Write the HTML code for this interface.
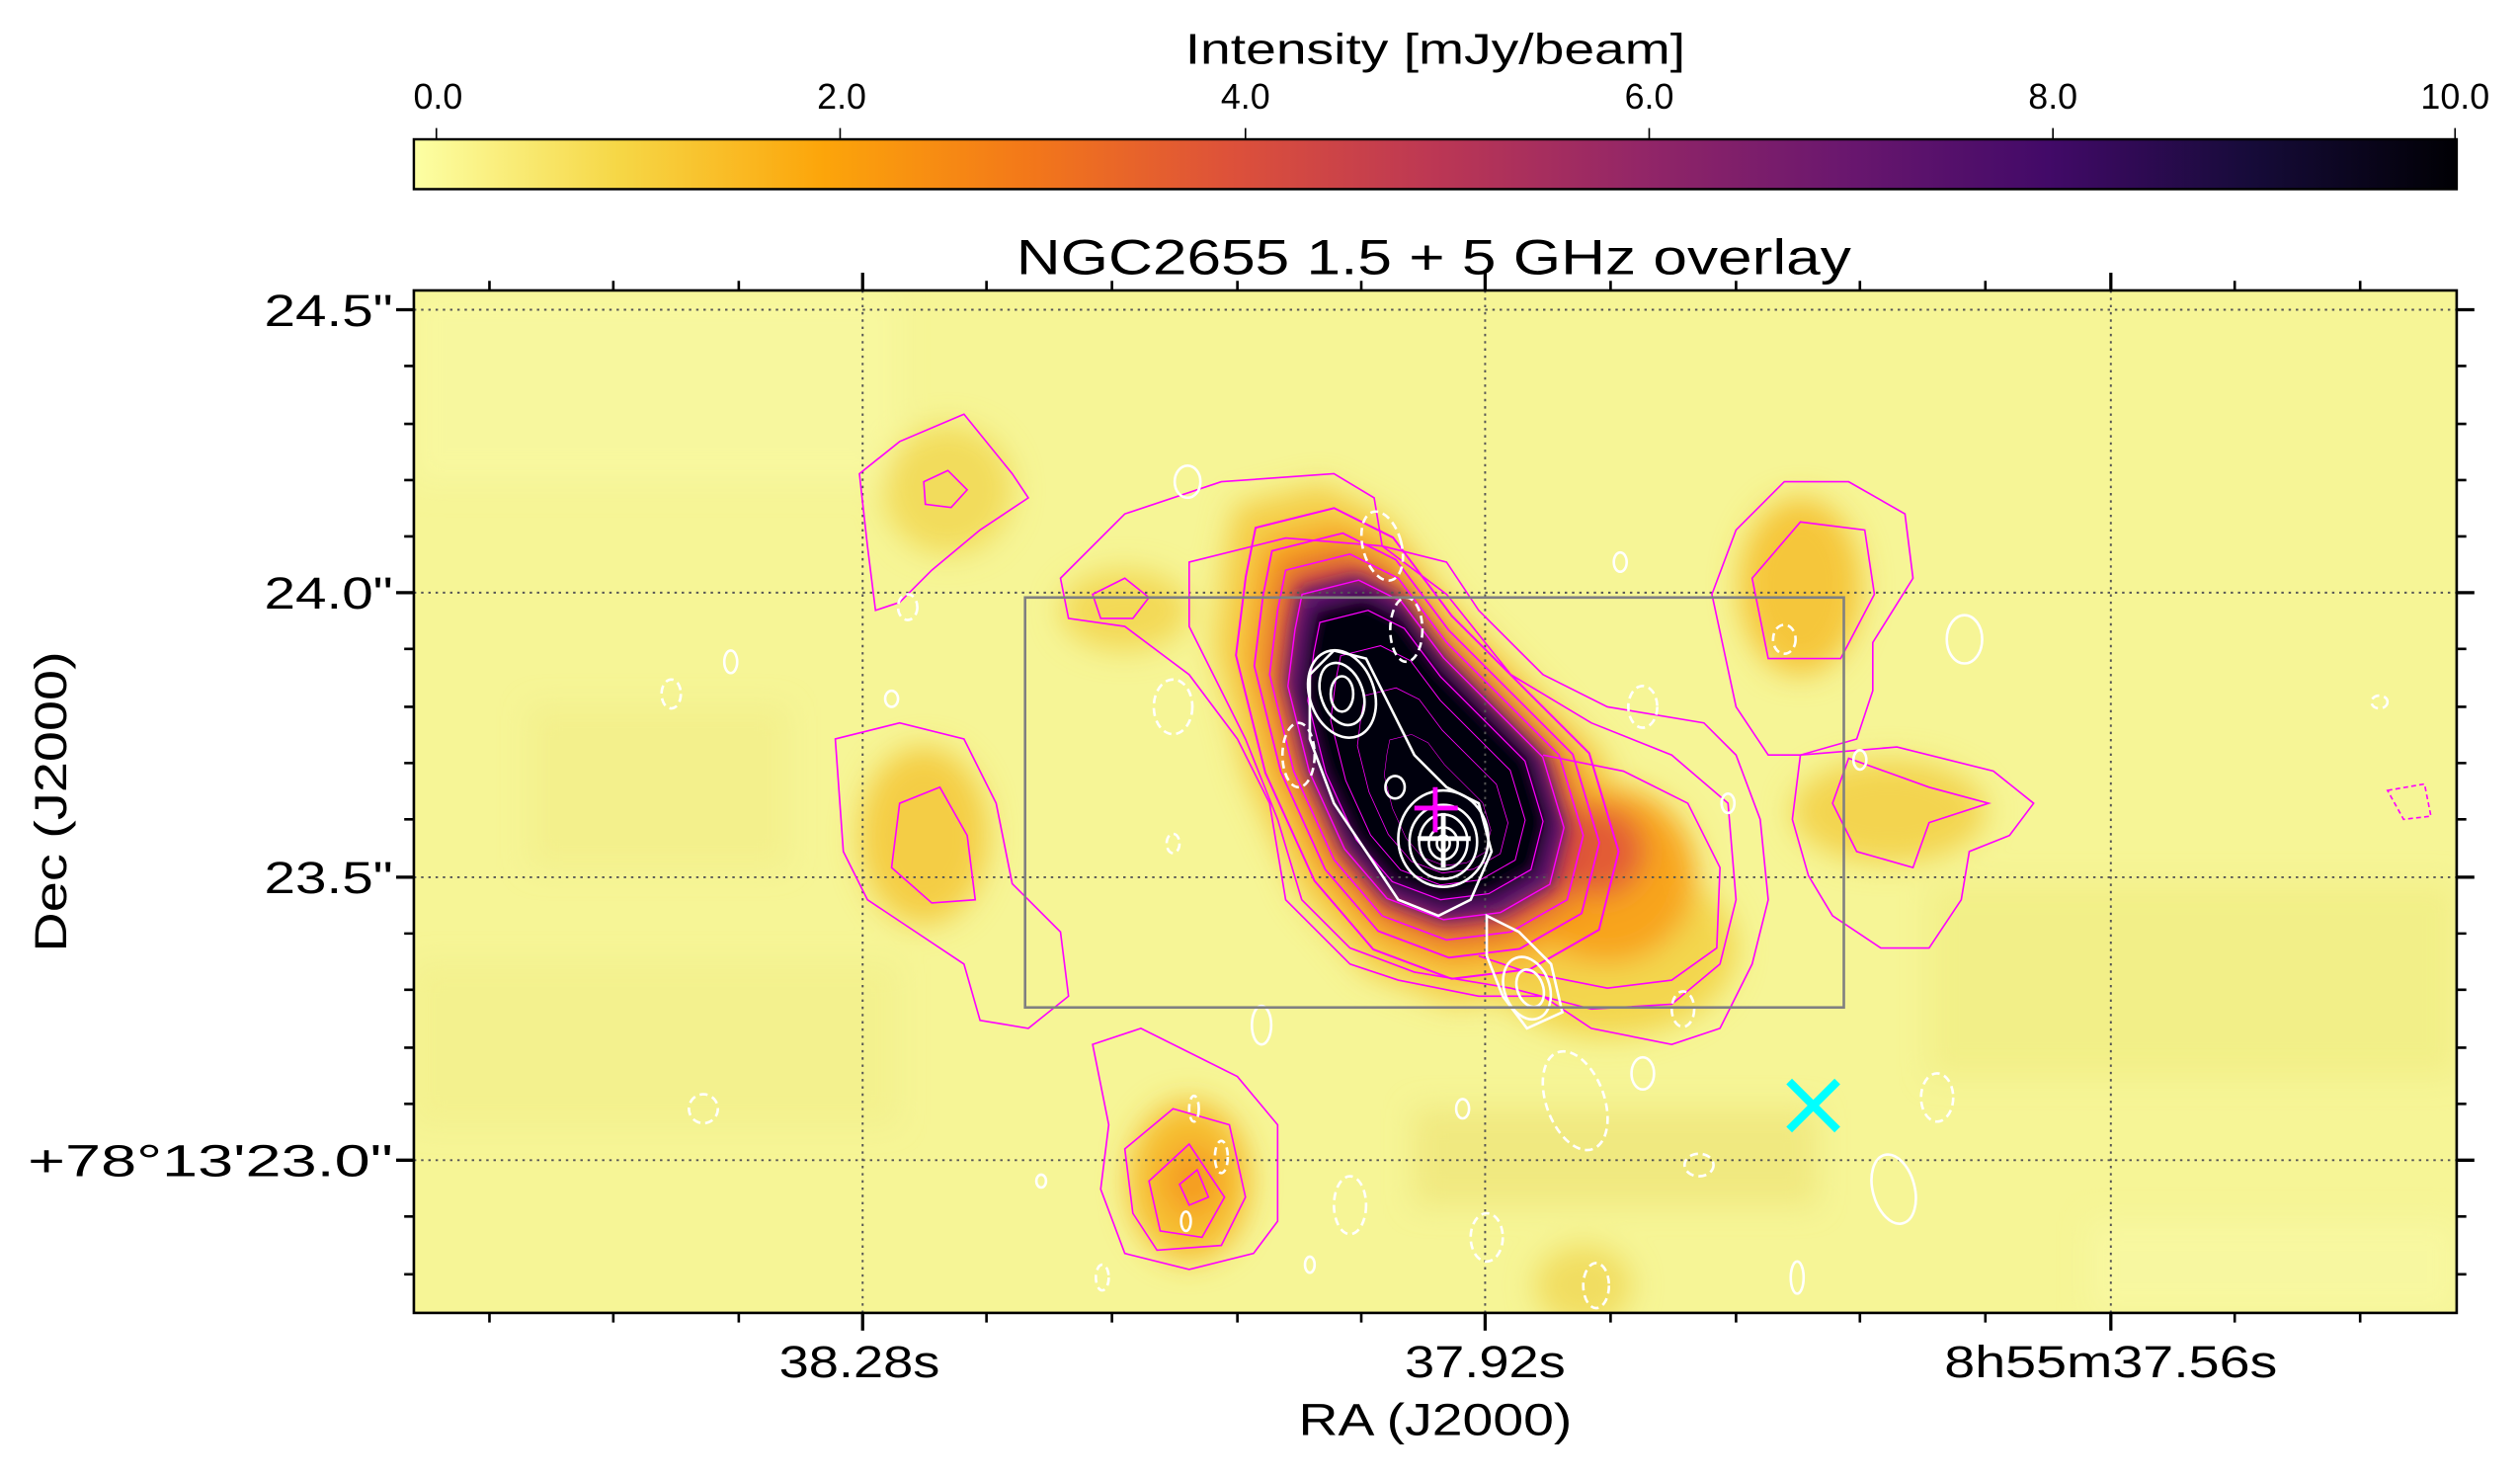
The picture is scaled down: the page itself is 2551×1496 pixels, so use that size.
<!DOCTYPE html>
<html><head><meta charset="utf-8"><style>
html,body{margin:0;padding:0;background:#fff;}
svg{display:block;}
text{font-family:"Liberation Sans",Arial,sans-serif;fill:#000;}
</style></head><body>
<svg width="2551" height="1496" viewBox="0 0 1560 915" preserveAspectRatio="none" xmlns="http://www.w3.org/2000/svg">
<defs>
<linearGradient id="cb" x1="258" y1="0" x2="1528" y2="0" gradientUnits="userSpaceOnUse">
<stop offset="0" stop-color="#fcffa4"/>
<stop offset="0.1" stop-color="#f6d746"/>
<stop offset="0.2" stop-color="#fca50a"/>
<stop offset="0.3" stop-color="#f37819"/>
<stop offset="0.4" stop-color="#dd513a"/>
<stop offset="0.5" stop-color="#bc3754"/>
<stop offset="0.6" stop-color="#932667"/>
<stop offset="0.7" stop-color="#6a176e"/>
<stop offset="0.8" stop-color="#420a68"/>
<stop offset="0.9" stop-color="#160b39"/>
<stop offset="1" stop-color="#000004"/>
</linearGradient>
<clipPath id="ax"><rect x="258" y="181" width="1270" height="636"/></clipPath>
<filter id="bl" x="-50%" y="-50%" width="200%" height="200%"><feGaussianBlur stdDeviation="9"/></filter>
<filter id="bl2" x="-50%" y="-50%" width="200%" height="200%"><feGaussianBlur stdDeviation="5"/></filter>
<path id="core" d="M800,355 L840,345 L870,360 L900,400 L940,440 L970,470 L985,520 L975,560 L940,580 L900,585 L860,570 L830,535 L805,480 L790,420 L795,380 Z"/>
</defs>
<g transform="translate(-0.707,-0.346) scale(0.99575,0.99528)">
<!-- colorbar -->
<text x="893" y="40" font-size="27" text-anchor="middle" textLength="311" lengthAdjust="spacingAndGlyphs">Intensity [mJy/beam]</text>
<rect x="258" y="87" width="1270" height="31" fill="url(#cb)" stroke="#000" stroke-width="1.5"/>
<g stroke="#000" stroke-width="1">
<line x1="272" y1="87" x2="272" y2="80"/><line x1="523" y1="87" x2="523" y2="80"/><line x1="775" y1="87" x2="775" y2="80"/><line x1="1026" y1="87" x2="1026" y2="80"/><line x1="1277" y1="87" x2="1277" y2="80"/><line x1="1527" y1="87" x2="1527" y2="80"/>
</g>
<g font-size="22" text-anchor="middle">
<text x="273" y="68">0.0</text><text x="524" y="68">2.0</text><text x="775" y="68">4.0</text><text x="1026" y="68">6.0</text><text x="1277" y="68">8.0</text><text x="1527" y="68">10.0</text>
</g>

<text x="892" y="171" font-size="31" text-anchor="middle" textLength="519" lengthAdjust="spacingAndGlyphs">NGC2655 1.5 + 5 GHz overlay</text>

<!-- image -->
<g clip-path="url(#ax)">
<rect x="258" y="181" width="1270" height="636" fill="#f6f596"/>
<g filter="url(#bl)">
<rect x="258" y="181" width="300" height="120" fill="#f8f8a0" opacity="0.8"/>
<rect x="1200" y="550" width="328" height="120" fill="#f1ec82" opacity="0.7"/>
<rect x="258" y="600" width="300" height="100" fill="#f1ee88" opacity="0.6"/>
<rect x="880" y="690" width="250" height="60" fill="#efe67a" opacity="0.8"/>
<rect x="1300" y="760" width="228" height="57" fill="#f8f8a2" opacity="0.8"/>
<rect x="330" y="440" width="160" height="100" fill="#f1ec85" opacity="0.6"/>
<ellipse cx="590" cy="305" rx="40" ry="40" fill="#f2dc5c"/>
<ellipse cx="575" cy="520" rx="40" ry="55" fill="#f4cd45"/>
<ellipse cx="740" cy="735" rx="38" ry="50" fill="#f6be32"/>
<ellipse cx="742" cy="735" rx="18" ry="22" fill="#f59c20"/>
<ellipse cx="1120" cy="365" rx="38" ry="55" fill="#f5c63a"/>
<ellipse cx="1175" cy="505" rx="60" ry="32" fill="#f3d450"/>
<ellipse cx="1000" cy="590" rx="80" ry="55" fill="#f3d64e"/>
<ellipse cx="985" cy="800" rx="30" ry="25" fill="#f1dd60"/>
<ellipse cx="700" cy="380" rx="40" ry="25" fill="#f3d957"/>
<use href="#core" fill="#f4cf48" transform="translate(890,470) scale(1.35) translate(-890,-470)"/>
<ellipse cx="1000" cy="545" rx="55" ry="55" fill="#f8a41a"/>
<use href="#core" fill="#f89c14" transform="translate(890,470) scale(1.15) translate(-890,-470)"/>
<ellipse cx="995" cy="530" rx="28" ry="28" fill="#e35b34"/>
<use href="#core" fill="#d3463f" transform="translate(890,470) scale(1.0) translate(-890,-470)"/>
</g>
<g filter="url(#bl2)">
<use href="#core" fill="#5e1570" transform="translate(885,475) scale(0.9) translate(-885,-475)"/>
<use href="#core" fill="#05030f" transform="translate(885,475) scale(0.8) translate(-885,-475)"/>
</g>

<!-- grid -->
<g stroke="#555" stroke-width="1.2" stroke-dasharray="1.5,3">
<line x1="537" y1="181" x2="537" y2="817"/><line x1="924" y1="181" x2="924" y2="817"/><line x1="1313" y1="181" x2="1313" y2="817"/>
<line x1="258" y1="193" x2="1528" y2="193"/><line x1="258" y1="369" x2="1528" y2="369"/><line x1="258" y1="546" x2="1528" y2="546"/><line x1="258" y1="722" x2="1528" y2="722"/>
</g>

<!-- magenta contours -->
<g fill="none" stroke="#ff00ff" stroke-width="1">
<path d="M535,295 L560,275 L600,258 L630,295 L640,310 L610,330 L580,355 L560,375 L545,380 L540,340 Z"/>
<path d="M575,300 L590,293 L602,305 L592,316 L576,314 Z"/>
<path d="M660,360 L700,320 L760,300 L830,295 L855,310 L860,340 L900,350 L920,380 L960,420 L1000,440 L1060,450 L1080,470 L1095,510 L1100,560 L1090,600 L1070,640 L1040,650 L990,640 L960,620 L920,620 L870,610 L840,600 L800,560 L790,500 L770,460 L740,420 L700,390 L665,385 Z"/>
<path d="M680,370 L700,360 L715,372 L705,385 L685,385 Z"/>
<path d="M520,460 L560,450 L600,460 L620,500 L630,550 L660,580 L665,620 L640,640 L610,635 L600,600 L570,580 L540,560 L525,530 Z"/>
<path d="M560,500 L585,490 L602,520 L607,560 L580,562 L555,540 Z"/>
<path d="M1065,370 L1080,330 L1110,300 L1150,300 L1185,320 L1190,360 L1165,400 L1165,430 L1155,460 L1120,470 L1100,470 L1080,440 Z"/>
<path d="M1090,360 L1120,325 L1160,330 L1166,370 L1145,410 L1100,410 Z"/>
<path d="M1120,470 L1180,465 L1240,480 L1265,500 L1250,520 L1225,530 L1220,560 L1200,590 L1170,590 L1140,570 L1125,545 L1115,510 Z"/>
<path d="M1150,472 L1200,490 L1237,500 L1200,512 L1190,540 L1155,530 L1140,500 Z"/>
<path d="M680,650 L710,640 L740,655 L770,670 L795,700 L795,760 L780,780 L740,790 L700,780 L685,740 L690,700 Z"/>
<path d="M700,715 L730,690 L765,700 L775,745 L760,775 L720,778 L705,755 Z"/>
<path d="M715,735 L740,712 L762,745 L748,770 L722,766 Z"/>
<path d="M734,737 L745,728 L752,745 L740,750 Z"/>
<path d="M740,350 L800,335 L860,340 L900,370 L940,420 L990,450 L1040,470 L1075,500 L1080,560 L1070,600 L1040,625 L990,628 L940,615 L880,605 L840,590 L810,560 L795,510 L775,460 L755,420 L740,390 Z"/>
<path d="M960,470 L1010,480 L1050,500 L1070,540 L1068,590 L1040,610 L1000,615 L950,605 L920,595"/>
<use href="#core" transform="translate(885,475) scale(1.22) translate(-885,-475)"/>
<use href="#core" transform="translate(885,475) scale(1.1) translate(-885,-475)"/>
<use href="#core" transform="translate(885,475) scale(1.0) translate(-885,-475)"/>
<use href="#core" transform="translate(885,480) scale(0.88) translate(-885,-480)"/>
<use href="#core" transform="translate(885,485) scale(0.75) translate(-885,-485)"/>
<use href="#core" transform="translate(890,495) scale(0.62) translate(-890,-495)"/>
<use href="#core" transform="translate(895,505) scale(0.48) translate(-895,-505)"/>
<use href="#core" transform="translate(898,515) scale(0.34) translate(-898,-515)"/>
<path d="M1485,492 L1508,488 L1512,508 L1495,510 Z" stroke-dasharray="3,2"/>
</g>

<!-- white contours -->
<g fill="none" stroke="#fff" stroke-width="1.6">
<ellipse cx="835" cy="432" rx="20" ry="28" transform="rotate(-20 835 432)"/>
<ellipse cx="835" cy="432" rx="13" ry="20" transform="rotate(-20 835 432)"/>
<ellipse cx="835" cy="432" rx="7" ry="11"/>
<path d="M815,420 L830,405 L850,410 L865,440 L880,470 L900,490 L920,500 L928,530 L915,560 L895,570 L870,560 L850,530 L830,500 L815,460 Z"/>
<ellipse cx="898" cy="522" rx="28" ry="30"/>
<ellipse cx="898" cy="524" rx="21" ry="23"/>
<ellipse cx="898" cy="524" rx="15" ry="17"/>
<ellipse cx="898" cy="525" rx="9" ry="10"/>
<ellipse cx="898" cy="525" rx="4" ry="5"/>
<ellipse cx="868" cy="490" rx="6" ry="7"/>
<ellipse cx="950" cy="615" rx="14" ry="20" transform="rotate(-20 950 615)"/>
<ellipse cx="952" cy="615" rx="8" ry="12" transform="rotate(-20 952 615)"/>
<path d="M925,570 L945,580 L965,600 L972,630 L950,640 L935,620 L925,595 Z"/>
<ellipse cx="1222" cy="398" rx="11" ry="15"/>
<ellipse cx="1022" cy="668" rx="7" ry="10"/>
<ellipse cx="1178" cy="740" rx="13" ry="22" transform="rotate(-15 1178 740)"/>
<ellipse cx="739" cy="300" rx="8" ry="10"/>
<ellipse cx="785" cy="638" rx="6" ry="12"/>
<ellipse cx="910" cy="690" rx="4" ry="6"/>
<ellipse cx="455" cy="412" rx="4" ry="7"/>
<ellipse cx="555" cy="435" rx="4" ry="5"/>
<ellipse cx="1008" cy="350" rx="4" ry="6"/>
<ellipse cx="1118" cy="795" rx="4" ry="10"/>
<ellipse cx="1075" cy="500" rx="4" ry="6"/>
<ellipse cx="1157" cy="473" rx="4" ry="6"/>
<ellipse cx="738" cy="760" rx="3" ry="6"/>
<ellipse cx="648" cy="735" rx="3" ry="4"/>
<ellipse cx="815" cy="787" rx="3" ry="5"/>
</g>
<g fill="none" stroke="#fff" stroke-width="1.6" stroke-dasharray="5,3">
<ellipse cx="730" cy="440" rx="12" ry="17"/>
<ellipse cx="860" cy="340" rx="12" ry="22" transform="rotate(-15 860 340)"/>
<ellipse cx="875" cy="392" rx="10" ry="20"/>
<ellipse cx="808" cy="470" rx="10" ry="20"/>
<ellipse cx="1022" cy="440" rx="9" ry="13"/>
<ellipse cx="980" cy="685" rx="18" ry="32" transform="rotate(-20 980 685)"/>
<ellipse cx="1047" cy="628" rx="7" ry="11"/>
<ellipse cx="1110" cy="398" rx="7" ry="9"/>
<ellipse cx="1205" cy="683" rx="10" ry="15"/>
<ellipse cx="418" cy="432" rx="6" ry="9"/>
<ellipse cx="438" cy="690" rx="9" ry="9"/>
<ellipse cx="840" cy="750" rx="10" ry="18"/>
<ellipse cx="925" cy="770" rx="10" ry="15"/>
<ellipse cx="993" cy="800" rx="8" ry="14"/>
<ellipse cx="1057" cy="725" rx="9" ry="7"/>
<ellipse cx="565" cy="378" rx="6" ry="8"/>
<ellipse cx="760" cy="720" rx="4" ry="10"/>
<ellipse cx="743" cy="690" rx="3" ry="8"/>
<ellipse cx="1480" cy="437" rx="5" ry="4"/>
<ellipse cx="730" cy="525" rx="4" ry="6"/>
<ellipse cx="686" cy="795" rx="4" ry="8"/>
</g>

<!-- box and markers -->
<rect x="638" y="372" width="509" height="255" fill="none" stroke="#808080" stroke-width="1.6"/>
<g stroke="#ff00ff" stroke-width="3"><line x1="880" y1="503" x2="907" y2="503"/><line x1="893" y1="490" x2="893" y2="518"/></g>
<g stroke="#fff" stroke-width="3"><line x1="882" y1="522" x2="915" y2="522"/><line x1="898" y1="506" x2="898" y2="540"/></g>
<g stroke="#00ffff" stroke-width="5"><line x1="1113" y1="673" x2="1143" y2="703"/><line x1="1143" y1="673" x2="1113" y2="703"/></g>
</g>

<!-- axes frame -->
<rect x="258" y="181" width="1270" height="636" fill="none" stroke="#000" stroke-width="1.6"/>
<g stroke="#000" stroke-width="2">
<line x1="537" y1="817" x2="537" y2="828"/><line x1="924" y1="817" x2="924" y2="828"/><line x1="1313" y1="817" x2="1313" y2="828"/>
<line x1="537" y1="181" x2="537" y2="170"/><line x1="924" y1="181" x2="924" y2="170"/><line x1="1313" y1="181" x2="1313" y2="170"/>
<line x1="258" y1="193" x2="247" y2="193"/><line x1="258" y1="369" x2="247" y2="369"/><line x1="258" y1="546" x2="247" y2="546"/><line x1="258" y1="722" x2="247" y2="722"/>
<line x1="1528" y1="193" x2="1539" y2="193"/><line x1="1528" y1="369" x2="1539" y2="369"/><line x1="1528" y1="546" x2="1539" y2="546"/><line x1="1528" y1="722" x2="1539" y2="722"/>
</g>
<g stroke="#000" stroke-width="1.6">
<path d="M305,817v6M382,817v6M460,817v6M614,817v6M692,817v6M770,817v6M847,817v6M1002,817v6M1080,817v6M1157,817v6M1235,817v6M1390,817v6M1468,817v6"/>
<path d="M305,181v-6M382,181v-6M460,181v-6M614,181v-6M692,181v-6M770,181v-6M847,181v-6M1002,181v-6M1080,181v-6M1157,181v-6M1235,181v-6M1390,181v-6M1468,181v-6"/>
<path d="M258,228h-6M258,264h-6M258,299h-6M258,334h-6M258,404h-6M258,440h-6M258,475h-6M258,510h-6M258,581h-6M258,616h-6M258,652h-6M258,687h-6M258,757h-6M258,793h-6"/>
<path d="M1528,228h6M1528,264h6M1528,299h6M1528,334h6M1528,404h6M1528,440h6M1528,475h6M1528,510h6M1528,581h6M1528,616h6M1528,652h6M1528,687h6M1528,757h6M1528,793h6"/>
</g>

<!-- tick labels -->
<g font-size="28" text-anchor="end">
<text x="245" y="203" textLength="80" lengthAdjust="spacingAndGlyphs">24.5"</text>
<text x="245" y="379" textLength="80" lengthAdjust="spacingAndGlyphs">24.0"</text>
<text x="245" y="556" textLength="80" lengthAdjust="spacingAndGlyphs">23.5"</text>
<text x="245" y="732" textLength="227" lengthAdjust="spacingAndGlyphs">+78°13'23.0"</text>
</g>
<g font-size="28" text-anchor="middle">
<text x="535" y="857" textLength="100" lengthAdjust="spacingAndGlyphs">38.28s</text>
<text x="924" y="857" textLength="100" lengthAdjust="spacingAndGlyphs">37.92s</text>
<text x="1313" y="857" textLength="207" lengthAdjust="spacingAndGlyphs">8h55m37.56s</text>
</g>
<text x="893" y="893" font-size="28" text-anchor="middle" textLength="170" lengthAdjust="spacingAndGlyphs">RA (J2000)</text>
<text transform="translate(42,499) rotate(-90)" font-size="28" text-anchor="middle" textLength="187" lengthAdjust="spacingAndGlyphs">Dec (J2000)</text>
</g>
</svg>
</body></html>
